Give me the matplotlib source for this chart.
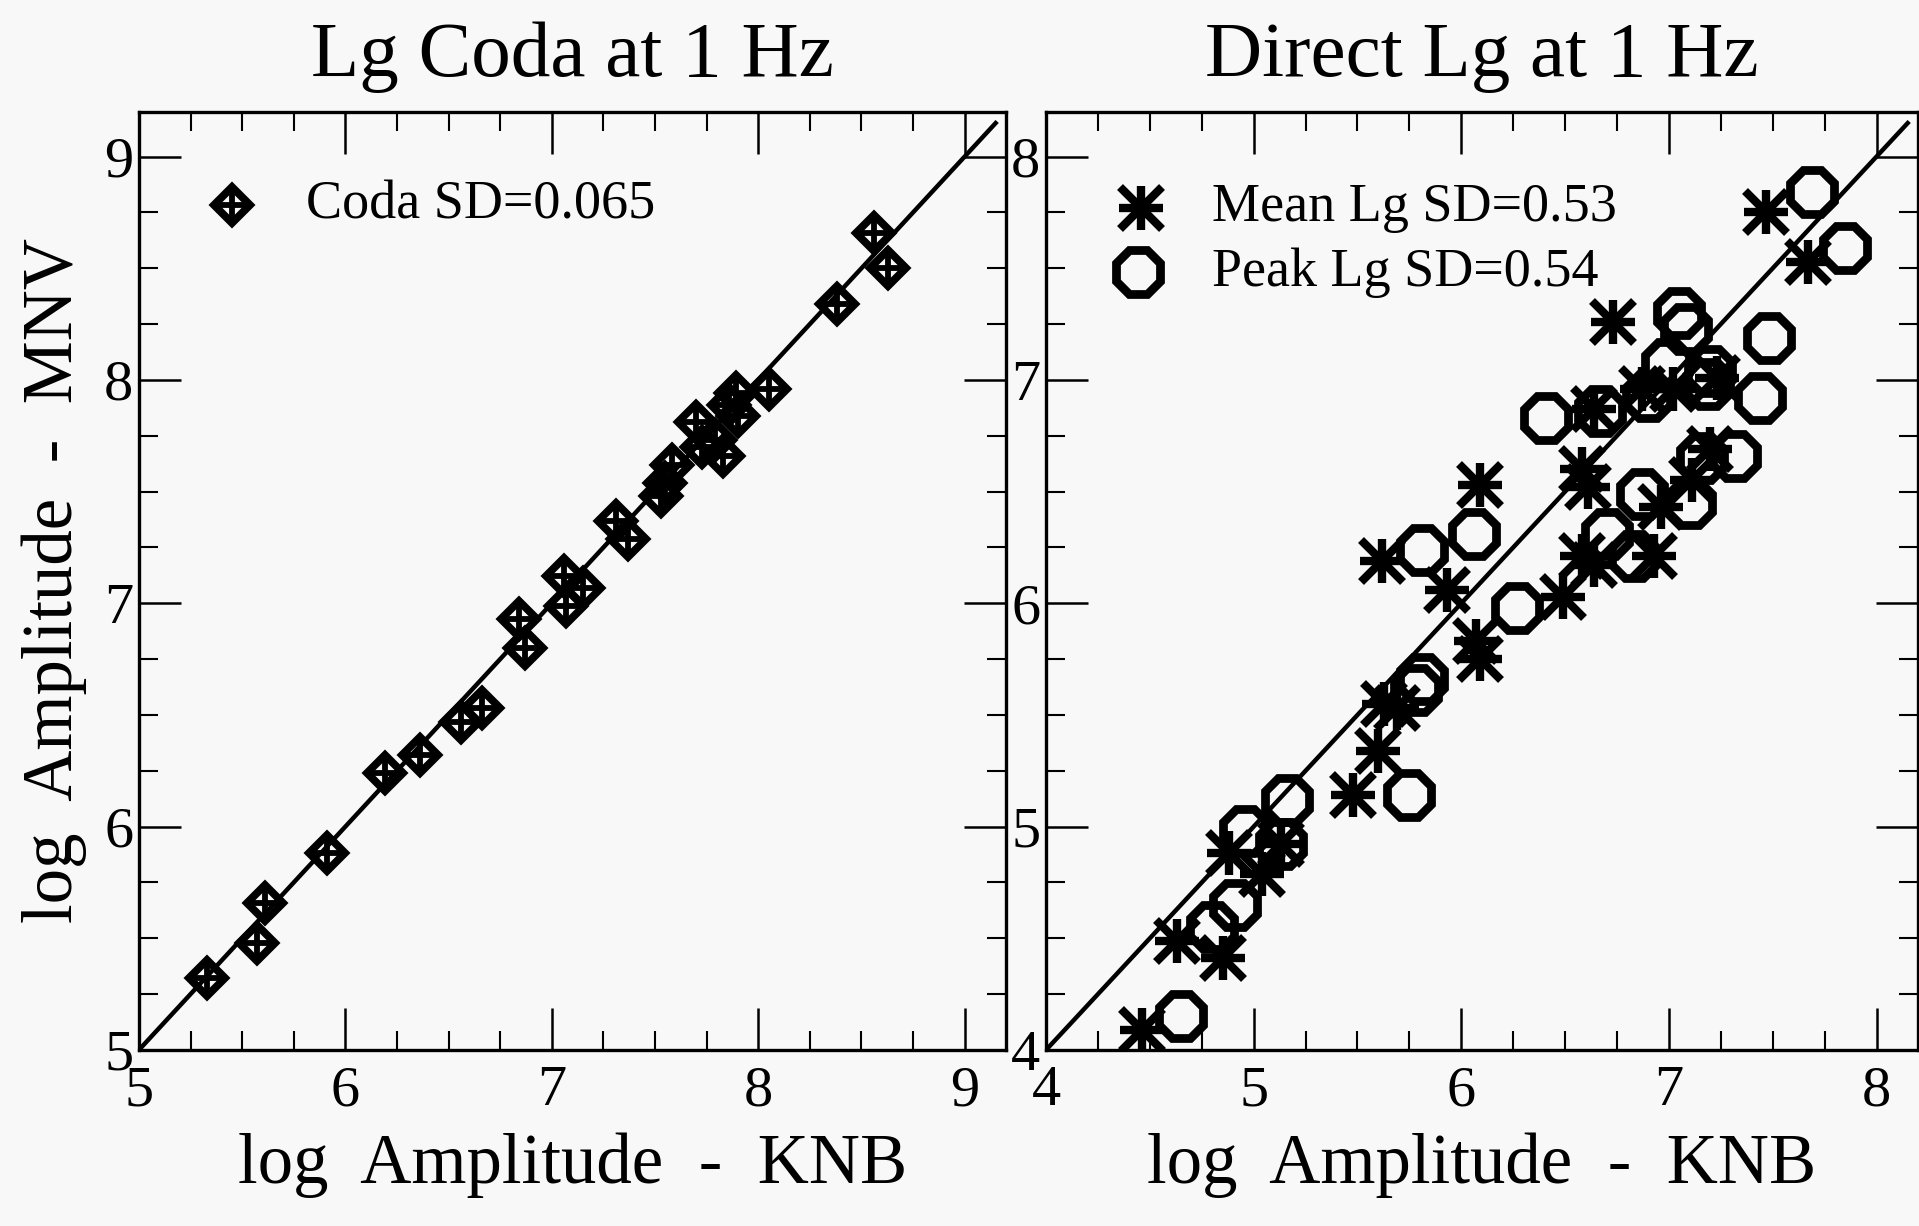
import matplotlib
matplotlib.use("Agg")
import matplotlib.pyplot as plt
from matplotlib.ticker import MultipleLocator

# ---------------- data ----------------
coda_knb = [5.33, 5.57, 5.61, 5.91, 6.19, 6.36, 6.56, 6.66, 6.84, 6.87,
            7.06, 7.07, 7.15, 7.31, 7.37, 7.53, 7.55, 7.58, 7.70, 7.73,
            7.79, 7.83, 7.86, 7.89, 7.90, 8.05, 8.38, 8.56, 8.63]
coda_mnv = [5.32, 5.48, 5.66, 5.88, 6.24, 6.32, 6.47, 6.53, 6.93, 6.80,
            7.12, 6.99, 7.07, 7.37, 7.29, 7.48, 7.54, 7.62, 7.81, 7.70,
            7.73, 7.66, 7.89, 7.94, 7.84, 7.96, 8.34, 8.66, 8.50]

mean_knb = [4.46, 4.63, 4.85, 4.88, 5.04, 5.13, 5.48, 5.60, 5.63, 5.69,
            5.62, 5.93, 6.07, 6.09, 6.09, 6.49, 6.58, 6.61, 6.58, 6.64,
            6.73, 6.64, 6.87, 6.93, 6.96, 7.02, 7.11, 7.20, 7.23, 7.47, 7.67]
mean_mnv = [4.09, 4.49, 4.41, 4.88, 4.79, 4.92, 5.14, 5.34, 5.55, 5.53,
            6.19, 6.06, 5.83, 5.75, 6.53, 6.03, 6.60, 6.52, 6.21, 6.17,
            7.26, 6.87, 6.96, 6.21, 6.43, 6.96, 6.55, 6.69, 7.01, 7.75, 7.53]

peak_knb = [4.65, 4.91, 4.80, 4.96, 5.13, 5.16, 5.75, 5.81, 5.78, 5.81,
            6.06, 6.27, 6.41, 6.67, 6.70, 6.83, 6.87, 6.90, 6.99, 7.05,
            7.08, 7.10, 7.16, 7.20, 7.19, 7.32, 7.44, 7.48, 7.69, 7.85]
peak_mnv = [4.15, 4.65, 4.55, 4.98, 4.92, 5.12, 5.14, 5.66, 5.61, 6.24,
            6.31, 5.98, 6.83, 6.86, 6.31, 6.21, 6.49, 6.93, 7.07, 7.30,
            7.23, 6.45, 6.65, 7.04, 6.98, 6.66, 6.92, 7.19, 7.84, 7.59]

titles = ["Lg Coda at 1 Hz", "Direct Lg at 1 Hz"]
xlabel = "log  Amplitude  -  KNB"
ylabel = "log  Amplitude  -  MNV"
coda_label = "Coda SD=0.065"
mean_label = "Mean Lg SD=0.53"
peak_label = "Peak Lg SD=0.54"

# ---------------- style ----------------
plt.rcParams["font.family"] = ["Liberation Serif", "DejaVu Serif"]

BG = "#f8f8f8"

fig = plt.figure(figsize=(19.19, 12.26), dpi=100, facecolor=BG)

ax1 = fig.add_axes([0.0724, 0.1436, 0.4518, 0.7651])
ax2 = fig.add_axes([0.5451, 0.1436, 0.4544, 0.7651])


def style_axes(ax, lo, hi):
    ax.set_facecolor(BG)
    ax.set_xlim(lo, hi + 0.2)
    ax.set_ylim(lo, hi + 0.2)
    ax.xaxis.set_major_locator(MultipleLocator(1))
    ax.yaxis.set_major_locator(MultipleLocator(1))
    ax.xaxis.set_minor_locator(MultipleLocator(0.25))
    ax.yaxis.set_minor_locator(MultipleLocator(0.25))
    ax.tick_params(which="both", direction="in", top=True, right=True,
                   color="black")
    ax.tick_params(which="major", length=30, width=1.8)
    ax.tick_params(which="minor", length=14, width=1.5)
    ax.tick_params(axis="x", labelsize=42, pad=11)
    ax.tick_params(axis="y", labelsize=42, pad=4)
    for s in ax.spines.values():
        s.set_linewidth(2.4)
    ax.set_xlabel(xlabel, fontsize=51, labelpad=11)
    # 1:1 line
    ax.plot([lo, hi + 0.15], [lo, hi + 0.15], color="black", lw=3.2,
            zorder=2)


style_axes(ax1, 5, 9)
style_axes(ax2, 4, 8)

ax1.set_ylabel(ylabel, fontsize=51, labelpad=12)
ax1.set_title(titles[0], fontsize=57, pad=26)
ax2.set_title(titles[1], fontsize=57, pad=26)


def coda_marker(ax, x, y, **kw):
    # diamond with a cross inside
    ax.plot(x, y, ls="none", marker="D", ms=18.5, mfc="none", mec="black",
            mew=5.6, zorder=3, **kw)
    ax.plot(x, y, ls="none", marker="+", ms=22, mec="black", mew=4.2,
            zorder=3, **kw)


def mean_marker(ax, x, y, **kw):
    # asterisk = plus + cross
    ax.plot(x, y, ls="none", marker="+", ms=32, mec="black", mew=6,
            zorder=3, **kw)
    ax.plot(x, y, ls="none", marker="x", ms=30, mec="black", mew=6,
            zorder=3, **kw)


def peak_marker(ax, x, y, **kw):
    ax.plot(x, y, ls="none", marker="8", ms=34, mfc="none", mec="black",
            mew=6.3, zorder=3, **kw)


coda_marker(ax1, coda_knb, coda_mnv)
mean_marker(ax2, mean_knb, mean_mnv)
peak_marker(ax2, peak_knb, peak_mnv)

# legend entries (drawn by hand like the original)
coda_marker(ax1, [0.107], [0.901], transform=ax1.transAxes)
ax1.text(0.193, 0.901, coda_label, transform=ax1.transAxes, fontsize=39,
         va="center", ha="left")

mean_marker(ax2, [0.109], [0.898], transform=ax2.transAxes)
ax2.text(0.19, 0.898, mean_label, transform=ax2.transAxes, fontsize=39,
         va="center", ha="left")
peak_marker(ax2, [0.106], [0.829], transform=ax2.transAxes)
ax2.text(0.19, 0.829, peak_label, transform=ax2.transAxes, fontsize=39,
         va="center", ha="left")

fig.savefig("out.png", dpi=100, facecolor=BG)
